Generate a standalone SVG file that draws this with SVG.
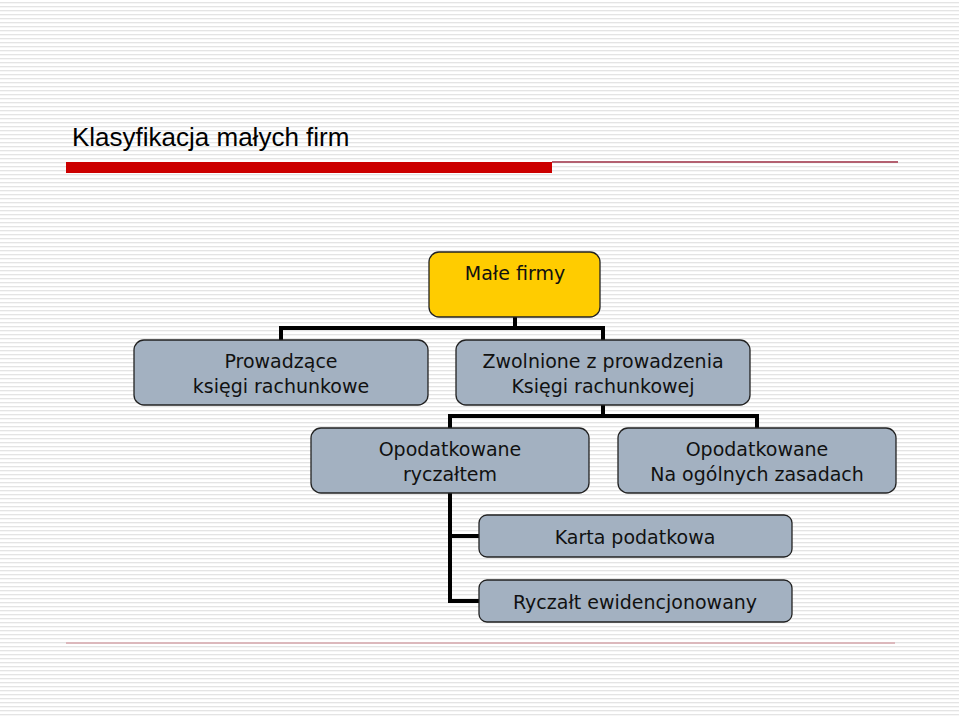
<svg xmlns="http://www.w3.org/2000/svg" width="959" height="717" viewBox="0 0 959 717">
<defs>
<pattern id="bg" width="4" height="4" patternUnits="userSpaceOnUse"><rect width="4" height="4" fill="#ffffff"/><rect y="2" width="4" height="1.3" fill="#e4e4e4"/></pattern>
<style>
.n{fill:#a3b1c1;stroke:#222;stroke-width:1.3}
.t{font-family:"DejaVu Sans",Verdana,sans-serif;font-size:19px;fill:#111;text-anchor:middle}
.c{fill:none;stroke:#000;stroke-width:4}
</style>
</defs>
<rect width="959" height="717" fill="url(#bg)"/>
<text x="72" y="146" font-family="Liberation Sans, Arial, sans-serif" font-size="26" fill="#000">Klasyfikacja małych firm</text>
<rect x="66" y="162" width="486" height="11" fill="#cc0000"/>
<rect x="552" y="161" width="346" height="2" fill="#b36070"/>
<rect x="66" y="642" width="829" height="2" fill="#dcb8bc"/>
<g id="connectors">
<path class="c" d="M515 317V328M281 340V328H603V340"/>
<path class="c" d="M603 405V416M450 428V416H757V428"/>
<path class="c" d="M450 493V601H479M450 536H479"/>
</g>
<g id="n1"><rect x="429" y="252" width="171" height="65" rx="10" fill="#ffcc00" stroke="#222" stroke-width="1.3"/><text class="t" x="515" y="280">Małe firmy</text></g>
<g id="n2"><rect class="n" x="134" y="340" width="294" height="65" rx="10"/><text class="t" x="281" y="368">Prowadzące</text><text class="t" x="281" y="393">księgi rachunkowe</text></g>
<g id="n3"><rect class="n" x="456" y="340" width="294" height="65" rx="10"/><text class="t" x="603" y="368">Zwolnione z prowadzenia</text><text class="t" x="603" y="393">Księgi rachunkowej</text></g>
<g id="n4"><rect class="n" x="311" y="428" width="278" height="65" rx="10"/><text class="t" x="450" y="456">Opodatkowane</text><text class="t" x="450" y="481">ryczałtem</text></g>
<g id="n5"><rect class="n" x="618" y="428" width="278" height="65" rx="10"/><text class="t" x="757" y="456">Opodatkowane</text><text class="t" x="757" y="481">Na ogólnych zasadach</text></g>
<g id="n6"><rect class="n" x="479" y="515" width="313" height="42" rx="8"/><text class="t" x="635" y="544">Karta podatkowa</text></g>
<g id="n7"><rect class="n" x="479" y="580" width="313" height="42" rx="8"/><text class="t" x="635" y="609">Ryczałt ewidencjonowany</text></g>
</svg>
